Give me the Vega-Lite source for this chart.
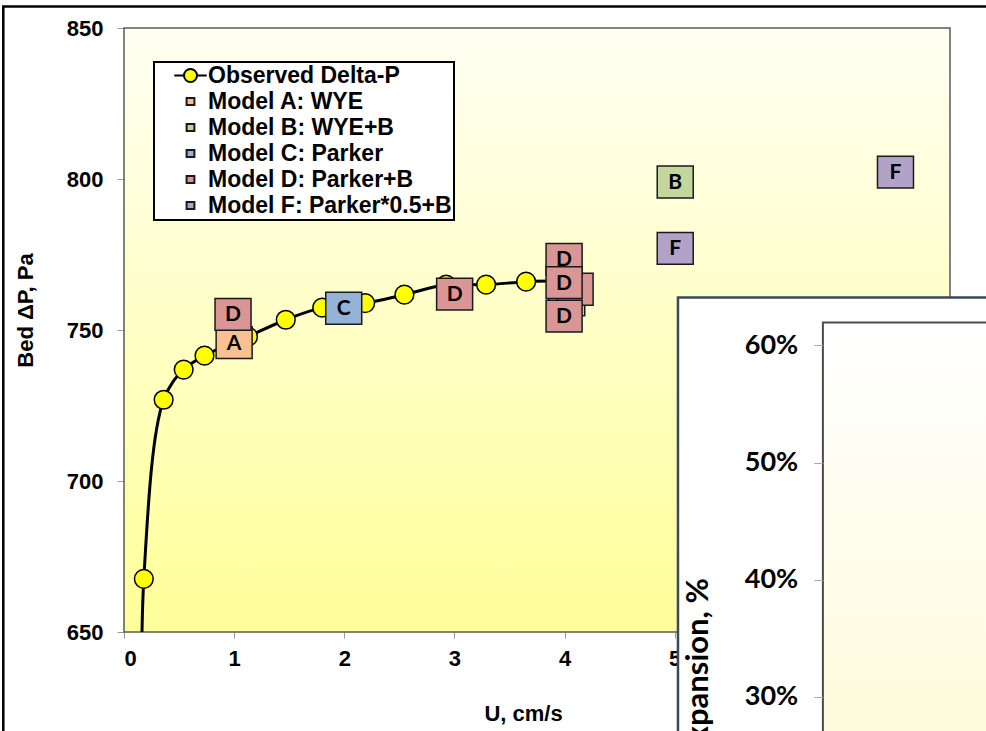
{
  "$schema": "https://vega.github.io/schema/vega-lite/v6.json",
  "width": 826,
  "height": 604,
  "autosize": {"type": "none"},
  "padding": {"left": 124, "top": 28, "right": 36, "bottom": 99},
  "background": "white",
  "config": {"view": {"stroke": null}, "legend": {"strokeWidth": 2}},
  "datasets": {
    "observed": [
      {"u": 0.165, "dp": 600, "series": "Observed Delta-P"},
      {"u": 0.18, "dp": 667.6, "series": "Observed Delta-P"},
      {"u": 0.36, "dp": 726.9, "series": "Observed Delta-P"},
      {"u": 0.542, "dp": 736.9, "series": "Observed Delta-P"},
      {"u": 0.731, "dp": 741.5, "series": "Observed Delta-P"},
      {"u": 1.126, "dp": 747.8, "series": "Observed Delta-P"},
      {"u": 1.469, "dp": 753.4, "series": "Observed Delta-P"},
      {"u": 1.8, "dp": 757.4, "series": "Observed Delta-P"},
      {"u": 2.19, "dp": 758.9, "series": "Observed Delta-P"},
      {"u": 2.546, "dp": 761.7, "series": "Observed Delta-P"},
      {"u": 2.925, "dp": 765.0, "series": "Observed Delta-P"},
      {"u": 3.288, "dp": 765.0, "series": "Observed Delta-P"},
      {"u": 3.651, "dp": 766.0, "series": "Observed Delta-P"},
      {"u": 4.0, "dp": 766.3, "series": "Observed Delta-P"}
    ],
    "models": [
      {"u": 1.0, "dp": 745.8, "series": "Model A: WYE", "l": "A"},
      {"u": 0.99, "dp": 755.2, "series": "Model D: Parker+B", "l": "D"},
      {"u": 1.995, "dp": 757.2, "series": "Model C: Parker", "l": "C"},
      {"u": 3.002, "dp": 761.9, "series": "Model D: Parker+B", "l": "D"},
      {"u": 4.02, "dp": 760.0, "series": "Model A: WYE", "l": ""},
      {"u": 4.096, "dp": 763.5, "series": "Model D: Parker+B", "l": ""},
      {"u": 3.996, "dp": 773.4, "series": "Model D: Parker+B", "l": "D"},
      {"u": 3.996, "dp": 765.7, "series": "Model D: Parker+B", "l": "D"},
      {"u": 3.996, "dp": 754.6, "series": "Model D: Parker+B", "l": "D"},
      {"u": 5.005, "dp": 799.0, "series": "Model B: WYE+B", "l": "B"},
      {"u": 5.005, "dp": 777.0, "series": "Model F: Parker*0.5+B", "l": "F"},
      {"u": 7.005, "dp": 802.3, "series": "Model F: Parker*0.5+B", "l": "F"}
    ]
  },
  "layer": [
    {
      "layer": [
        {
          "data": {"values": [{}]},
          "mark": {"type": "rect", "fill": {"gradient": "linear", "x1": 0, "y1": 0, "x2": 0, "y2": 1, "stops": [{"offset": 0, "color": "#fffff3"}, {"offset": 1, "color": "#ffff99"}]}},
          "encoding": {
            "x": {"datum": 0, "type": "quantitative", "scale": {"domain": [0, 7.5], "nice": false, "zero": false},
              "axis": {"title": "U, cm/s", "values": [0, 1, 2, 3, 4, 5, 6, 7], "format": "d", "grid": false, "domain": false, "tickSize": 6, "tickColor": "#999999", "labelPadding": 10, "labelFont": "Liberation Sans", "labelFontSize": 22, "labelFontWeight": "bold", "labelColor": "black", "titleFont": "Liberation Sans", "titleFontSize": 22, "titleFontWeight": "bold", "titleColor": "black", "titleX": 399, "titleY": 88, "titleAlign": "center", "titleBaseline": "alphabetic", "zindex": 0}},
            "x2": {"datum": 7.5},
            "y": {"datum": 650, "type": "quantitative", "scale": {"domain": [650, 850], "nice": false, "zero": false},
              "axis": {"title": "Bed ΔP, Pa", "values": [650, 700, 750, 800, 850], "format": "d", "grid": false, "domain": false, "tickSize": 7, "tickColor": "#999999", "labelPadding": 14, "labelFont": "Liberation Sans", "labelFontSize": 22, "labelFontWeight": "bold", "labelColor": "black", "titleFont": "Liberation Sans", "titleFontSize": 22, "titleFontWeight": "bold", "titleColor": "black", "titleAngle": 270, "titleX": -92, "titleY": 282, "titleAlign": "center", "titleBaseline": "alphabetic", "zindex": 0}},
            "y2": {"datum": 850}
          }
        },
        {
          "data": {"values": [{}]},
          "mark": {"type": "rect", "filled": false, "stroke": "#595959", "strokeWidth": 1.5},
          "encoding": {
            "x": {"datum": 0, "type": "quantitative", "scale": {"domain": [0, 7.5], "nice": false, "zero": false}},
            "x2": {"datum": 7.5},
            "y": {"datum": 650, "type": "quantitative", "scale": {"domain": [650, 850], "nice": false, "zero": false}},
            "y2": {"datum": 850}
          }
        },
        {
          "data": {"name": "observed"},
          "mark": {"type": "line", "interpolate": "catmull-rom", "color": "black", "strokeWidth": 3, "clip": true},
          "encoding": {
            "x": {"field": "u", "type": "quantitative", "scale": {"domain": [0, 7.5], "nice": false, "zero": false}},
            "y": {"field": "dp", "type": "quantitative", "scale": {"domain": [650, 850], "nice": false, "zero": false}}
          }
        },
        {
          "data": {"name": "observed"},
          "mark": {"type": "point", "shape": "circle", "filled": true, "size": 350, "stroke": "black", "strokeWidth": 1.5, "opacity": 1, "clip": true},
          "encoding": {
            "x": {"field": "u", "type": "quantitative", "scale": {"domain": [0, 7.5], "nice": false, "zero": false}},
            "y": {"field": "dp", "type": "quantitative", "scale": {"domain": [650, 850], "nice": false, "zero": false}},
            "color": {"field": "series", "type": "nominal",
              "scale": {"domain": ["Observed Delta-P", "Model A: WYE", "Model B: WYE+B", "Model C: Parker", "Model D: Parker+B", "Model F: Parker*0.5+B"], "range": ["#ffff00", "#fac090", "#c3d69b", "#95b3d7", "#d99694", "#b3a2c7"]},
              "legend": {"title": null, "orient": "none", "legendX": 30, "legendY": 34, "direction": "vertical", "fillColor": "white", "strokeColor": "black", "padding": 2, "labelFont": "Liberation Sans", "labelFontSize": 23, "labelFontWeight": "bold", "labelColor": "black", "labelLimit": 500, "labelOffset": 6, "symbolOffset": 23, "symbolSize": 169, "symbolStrokeColor": "black", "symbolStrokeWidth": 2, "symbolOpacity": 1, "rowPadding": 2, "zindex": 1}}
          }
        },
        {
          "data": {"name": "models"},
          "mark": {"type": "point", "filled": true, "size": 3600, "strokeWidth": 1.5, "opacity": 1},
          "encoding": {
            "x": {"field": "u", "type": "quantitative", "scale": {"domain": [0, 7.5], "nice": false, "zero": false}},
            "y": {"field": "dp", "type": "quantitative", "scale": {"domain": [650, 850], "nice": false, "zero": false}},
            "color": {"field": "series", "type": "nominal",
              "scale": {"domain": ["Observed Delta-P", "Model A: WYE", "Model B: WYE+B", "Model C: Parker", "Model D: Parker+B", "Model F: Parker*0.5+B"], "range": ["#ffff00", "#fac090", "#c3d69b", "#95b3d7", "#d99694", "#b3a2c7"]},
              "legend": {"title": null, "orient": "none", "legendX": 30, "legendY": 34, "direction": "vertical", "fillColor": "white", "strokeColor": "black", "padding": 2, "labelFont": "Liberation Sans", "labelFontSize": 23, "labelFontWeight": "bold", "labelColor": "black", "labelLimit": 500, "labelOffset": 6, "symbolOffset": 23, "symbolSize": 169, "symbolStrokeColor": "black", "symbolStrokeWidth": 2, "symbolOpacity": 1, "rowPadding": 2, "zindex": 1}},
            "stroke": {"field": "series", "type": "nominal",
              "scale": {"domain": ["Observed Delta-P", "Model A: WYE", "Model B: WYE+B", "Model C: Parker", "Model D: Parker+B", "Model F: Parker*0.5+B"], "range": ["#000000", "#1a1a1a", "#1a1a1a", "#1a1a1a", "#1a1a1a", "#1a1a1a"]},
              "legend": {"title": null, "orient": "none", "legendX": 30, "legendY": 34, "direction": "vertical", "fillColor": "white", "strokeColor": "black", "padding": 2, "labelFont": "Liberation Sans", "labelFontSize": 23, "labelFontWeight": "bold", "labelColor": "black", "labelLimit": 500, "labelOffset": 6, "symbolOffset": 23, "symbolSize": 169, "symbolStrokeColor": "black", "symbolStrokeWidth": 2, "symbolOpacity": 1, "rowPadding": 2, "zindex": 1}},
            "shape": {"field": "series", "type": "nominal",
              "scale": {"domain": ["Observed Delta-P", "Model A: WYE", "Model B: WYE+B", "Model C: Parker", "Model D: Parker+B", "Model F: Parker*0.5+B"],
                "range": ["M -2.5 0 H -1 M 1 0 H 2.5 M 1 0 A 1 1 0 1 1 -1 0 A 1 1 0 1 1 1 0 Z", "M -0.6 -0.53 H 0.6 V 0.53 H -0.6 Z", "M -0.6 -0.53 H 0.6 V 0.53 H -0.6 Z", "M -0.6 -0.53 H 0.6 V 0.53 H -0.6 Z", "M -0.6 -0.53 H 0.6 V 0.53 H -0.6 Z", "M -0.6 -0.53 H 0.6 V 0.53 H -0.6 Z"]},
              "legend": {"title": null, "orient": "none", "legendX": 30, "legendY": 34, "direction": "vertical", "fillColor": "white", "strokeColor": "black", "padding": 2, "labelFont": "Liberation Sans", "labelFontSize": 23, "labelFontWeight": "bold", "labelColor": "black", "labelLimit": 500, "labelOffset": 6, "symbolOffset": 23, "symbolSize": 169, "symbolStrokeColor": "black", "symbolStrokeWidth": 2, "symbolOpacity": 1, "rowPadding": 2, "zindex": 1}}
          }
        },
        {
          "data": {"name": "models"},
          "mark": {"type": "text", "font": "Lato", "fontSize": 21, "fontWeight": "bold", "color": "black", "dy": 1},
          "encoding": {
            "x": {"field": "u", "type": "quantitative", "scale": {"domain": [0, 7.5], "nice": false, "zero": false}},
            "y": {"field": "dp", "type": "quantitative", "scale": {"domain": [650, 850], "nice": false, "zero": false}},
            "text": {"field": "l"}
          }
        },
        {
          "data": {"values": [{}]},
          "mark": {"type": "rect", "filled": false, "stroke": "black", "strokeWidth": 2.5},
          "encoding": {
            "x": {"datum": -1.096, "type": "quantitative", "scale": {"domain": [0, 7.5], "nice": false, "zero": false}},
            "x2": {"datum": 9.5},
            "y": {"datum": 857.15, "type": "quantitative", "scale": {"domain": [650, 850], "nice": false, "zero": false}},
            "y2": {"datum": 500}
          }
        }
      ]
    },
    {
      "layer": [
        {
          "data": {"values": [{}]},
          "mark": {"type": "rect", "fill": "white", "stroke": "#3b4a58", "strokeWidth": 2.5},
          "encoding": {
            "x": {"datum": 5.03, "type": "quantitative", "scale": {"domain": [0, 7.5], "nice": false, "zero": false}},
            "x2": {"datum": 9.5},
            "y": {"datum": 0.641, "type": "quantitative", "scale": {"domain": [0.3, 0.6], "range": [668.7, 317.4], "nice": false, "zero": false},
              "axis": {"orient": "left", "offset": -698.7, "title": "Bed Expansion, %", "values": [0.3, 0.4, 0.5, 0.6], "format": ".0%", "grid": false, "domain": false, "tickSize": 9, "tickColor": "#aaaaaa", "labelPadding": 16, "labelFont": "Lato", "labelFontSize": 27, "labelFontWeight": "bold", "labelColor": "black", "labelBaseline": "middle", "titleFont": "Lato", "titleFontSize": 31, "titleFontWeight": "bold", "titleColor": "black", "titleAngle": 270, "titleX": -115.7, "titleY": 549.7, "titleAlign": "right", "titleBaseline": "alphabetic", "zindex": 1}},
            "y2": {"datum": 0.0}
          }
        },
        {
          "data": {"values": [{}]},
          "mark": {"type": "rect", "fill": {"gradient": "linear", "x1": 0, "y1": 0, "x2": 0, "y2": 1, "stops": [{"offset": 0, "color": "#ffffff"}, {"offset": 1, "color": "#fff8c0"}]}, "stroke": "#4d4d4d", "strokeWidth": 2},
          "encoding": {
            "x": {"datum": 6.346, "type": "quantitative", "scale": {"domain": [0, 7.5], "nice": false, "zero": false}},
            "x2": {"datum": 9.5},
            "y": {"datum": 0.6196, "type": "quantitative", "scale": {"domain": [0.3, 0.6], "range": [668.7, 317.4], "nice": false, "zero": false}},
            "y2": {"datum": 0.0}
          }
        }
      ]
    }
  ],
  "resolve": {"scale": {"y": "independent"}}
}
